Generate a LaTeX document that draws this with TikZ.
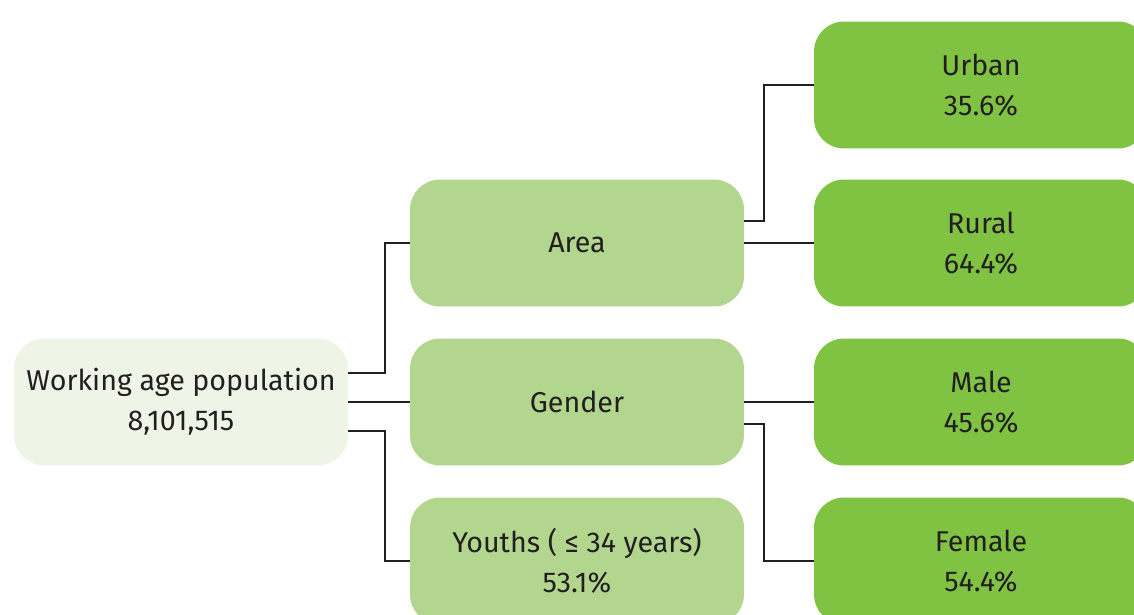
\documentclass[tikz,border=0pt]{standalone}
\usepackage{fontspec}
\setsansfont{Fira Sans}
\usetikzlibrary{positioning}

\definecolor{rootgreen}{HTML}{EFF5E6}
\definecolor{midgreen}{HTML}{B2D68D}
\definecolor{leafgreen}{HTML}{80C342}
\definecolor{inkgray}{HTML}{231F20}

\begin{document}
\begin{tikzpicture}[x=0.02cm, y=-0.02cm,
                        box/.style={
                            rounded corners=0.6cm,
                            minimum width=6.68cm,
                            minimum height=2.54cm,
                            font=\sffamily\fontsize{16.3}{23}\selectfont,
                            text=inkgray,
                            inner sep=0pt,
                            align=center
                        },
                        rootbox/.style={box, fill=rootgreen},
                        midbox/.style={box, fill=midgreen},
                        leafbox/.style={box, fill=leafgreen},
                        link/.style={
                            draw=inkgray,
                            line width=0.6pt
                        }
                    ]

                    % Frame of the picture
                    \useasboundingbox (0,0) rectangle (1134,615);
                    \clip (0,0) rectangle (1134,615);

                    % Root (left)
                    \node[rootbox] (population) at (181,402)
                        {Working age population\\8,101,515};

                    % Middle column
                    \node[midbox] (area) at (577,243) {Area};
                    \node[midbox] (gender) at (577,402) {Gender};
                    \node[midbox] (youths) at (577,561)
                        {Youths ( ≤ 34 years)\\53.1\%};

                    % Right column
                    \node[leafbox] (urban) at (981,85) {Urban\\35.6\%};
                    \node[leafbox] (rural) at (981,243) {Rural\\64.4\%};
                    \node[leafbox] (male) at (981,402) {Male\\45.6\%};
                    \node[leafbox] (female) at (981,561) {Female\\54.4\%};

                    % Links from the root
                    \draw[link] ([yshift=0.58cm] population.east) -| (385,0 |- area.west) -- (area.west);
                    \draw[link] (population.east) -- (gender.west);
                    \draw[link] ([yshift=-0.58cm] population.east) -| (385,0 |- youths.west) -- (youths.west);

                    % Links from Area and Gender
                    \draw[link] ([yshift=0.44cm] area.east) -| (764,0 |- urban.west) -- (urban.west);
                    \draw[link] (area.east) -- (rural.west);
                    \draw[link] (gender.east) -- (male.west);
                    \draw[link] ([yshift=-0.44cm] gender.east) -| (764,0 |- female.west) -- (female.west);
                    \end{tikzpicture}
\end{document}
